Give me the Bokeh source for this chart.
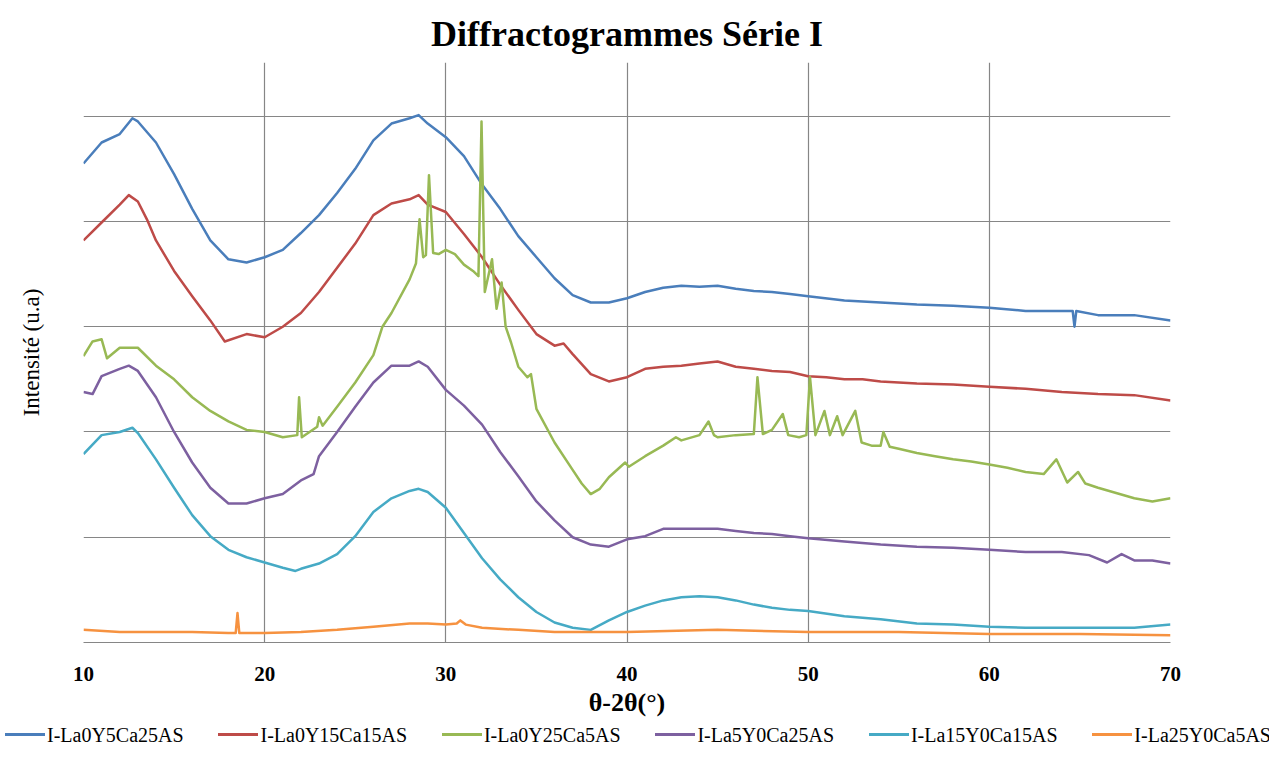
from bokeh.plotting import figure
from bokeh.layouts import column
from bokeh.models import FixedTicker, Range1d, Div
from bokeh.embed import file_html
from bokeh.resources import INLINE

title_text = "Diffractogrammes Série I"
x_label = "θ-2θ(°)"
y_label = "Intensité (u.a)"
x_ticks = [10, 20, 30, 40, 50, 60, 70]
y_grid = [1, 2, 3, 4, 5]

names = ["I-La0Y5Ca25AS", "I-La0Y15Ca15AS", "I-La0Y25Ca5AS",
         "I-La5Y0Ca25AS", "I-La15Y0Ca15AS", "I-La25Y0Ca5AS"]
colors = ["#4A7EBB", "#BE4B48", "#98B954", "#7D60A0", "#46AAC5", "#F69240"]

blue_x = [10, 11, 12, 12.7, 13, 14, 15, 16, 17, 18, 19, 20, 21, 22, 23, 24, 25, 26, 27, 28, 28.5, 29, 30,
          31, 32, 33, 34, 35, 36, 37, 38, 39, 40, 41, 42, 43, 44, 45, 46, 47, 48, 49, 50,
          52, 54, 56, 58, 60, 62, 64, 64.6, 64.7, 64.8, 66, 68, 70]
blue_y = [4.55, 4.75, 4.83, 4.98, 4.95, 4.75, 4.45, 4.12, 3.82, 3.64, 3.61, 3.66, 3.73, 3.89, 4.06, 4.27, 4.50, 4.77, 4.93, 4.98, 5.01, 4.93, 4.80,
          4.62, 4.35, 4.12, 3.86, 3.66, 3.46, 3.30, 3.23, 3.23, 3.27, 3.33, 3.37, 3.39, 3.38, 3.39, 3.36, 3.34, 3.33, 3.31, 3.29,
          3.25, 3.23, 3.21, 3.20, 3.18, 3.15, 3.15, 3.15, 3.00, 3.15, 3.11, 3.11, 3.06]

red_x = [10, 11, 12, 12.5, 13, 13.5, 14, 15, 16, 17, 17.8, 19, 20, 21, 22, 23, 24, 25, 26, 27, 28, 28.5, 29, 30,
         31, 32, 33, 34, 35, 36, 36.5, 37, 38, 39, 40, 41, 42, 43, 44, 45, 46, 47, 48, 49, 50,
         51, 52, 53, 54, 56, 58, 60, 62, 64, 66, 68, 70]
red_y = [3.82, 3.99, 4.16, 4.25, 4.19, 4.02, 3.82, 3.53, 3.29, 3.06, 2.86, 2.93, 2.90, 3.00, 3.13, 3.33, 3.56, 3.79, 4.06, 4.17, 4.21, 4.25, 4.16, 4.09,
         3.88, 3.66, 3.40, 3.16, 2.93, 2.82, 2.84, 2.74, 2.55, 2.48, 2.52, 2.60, 2.62, 2.63, 2.65, 2.67, 2.62, 2.60, 2.58, 2.57, 2.53,
         2.52, 2.50, 2.50, 2.48, 2.46, 2.45, 2.43, 2.41, 2.38, 2.36, 2.35, 2.30]

green_x = [10, 10.5, 11, 11.3, 12, 13, 14, 15, 16, 17, 18, 19, 20, 21, 21.8, 21.9, 22.05, 22.9, 23.0, 23.2, 24, 25, 26, 26.5, 27, 28,
           28.35, 28.55, 28.75, 28.9, 29.07, 29.3, 29.6, 30, 30.5, 31, 31.5, 31.8, 31.97, 32.15, 32.55, 32.8, 33.08, 33.3, 33.6,
           34, 34.5, 34.7, 35, 36, 37, 37.5, 38, 38.5, 39, 39.9, 40.1, 41, 42, 42.7, 43, 44, 44.5, 44.8, 45, 46, 47, 47.2, 47.5,
           48, 48.6, 48.9, 49.5, 49.9, 50.1, 50.4, 50.9, 51.2, 51.6, 51.9, 52.6, 52.95, 53.5, 54, 54.15, 54.5, 55, 56, 57, 58, 59,
           60, 61, 62, 63, 63.7, 64.3, 64.9, 65.3, 66, 67, 68, 69, 70]
green_y = [2.72, 2.86, 2.88, 2.70, 2.80, 2.80, 2.63, 2.50, 2.33, 2.20, 2.10, 2.02, 2.00, 1.95, 1.97, 2.33, 1.95, 2.05, 2.14, 2.06, 2.24, 2.47, 2.73, 3.00, 3.13, 3.45,
           3.60, 4.02, 3.66, 3.68, 4.44, 3.70, 3.69, 3.73, 3.69, 3.59, 3.53, 3.48, 4.95, 3.33, 3.64, 3.17, 3.42, 3.00, 2.85,
           2.62, 2.52, 2.55, 2.22, 1.90, 1.64, 1.51, 1.41, 1.46, 1.57, 1.71, 1.67, 1.77, 1.87, 1.95, 1.92, 1.97, 2.10, 1.97, 1.95, 1.97, 1.98, 2.52, 1.98,
           2.02, 2.17, 1.97, 1.95, 1.97, 2.52, 1.97, 2.20, 1.97, 2.15, 1.97, 2.20, 1.90, 1.87, 1.87, 2.00, 1.86, 1.84, 1.80, 1.77, 1.74, 1.72,
           1.69, 1.66, 1.62, 1.60, 1.74, 1.52, 1.62, 1.51, 1.47, 1.42, 1.37, 1.34, 1.37]

purple_x = [10, 10.5, 11, 12, 12.5, 13, 14, 15, 16, 17, 18, 19, 20, 21, 22, 22.7, 23, 24, 25, 26, 27, 28, 28.5, 29, 30,
            31, 32, 33, 34, 35, 36, 37, 38, 39, 40, 41, 42, 43, 44, 45, 46, 47, 48, 49, 50,
            52, 54, 56, 58, 60, 62, 64, 65.5, 66.5, 67.3, 68, 69, 70]
purple_y = [2.38, 2.36, 2.53, 2.60, 2.63, 2.58, 2.33, 2.00, 1.71, 1.47, 1.32, 1.32, 1.37, 1.41, 1.54, 1.60, 1.77, 2.00, 2.24, 2.47, 2.63, 2.63, 2.67, 2.62, 2.40,
            2.25, 2.07, 1.81, 1.58, 1.34, 1.16, 1.00, 0.93, 0.91, 0.98, 1.01, 1.08, 1.08, 1.08, 1.08, 1.06, 1.04, 1.03, 1.01, 0.99,
            0.96, 0.93, 0.91, 0.90, 0.88, 0.86, 0.86, 0.83, 0.76, 0.84, 0.78, 0.78, 0.75]

cyan_x = [10, 11, 12, 12.7, 13, 14, 15, 16, 17, 18, 19, 20, 21, 21.7, 22, 23, 24, 25, 26, 27, 28, 28.5, 29, 30,
          31, 32, 33, 34, 35, 36, 37, 38, 39, 40, 41, 42, 43, 44, 45, 46, 47, 48, 49, 50,
          52, 54, 56, 58, 60, 62, 64, 66, 68, 70]
cyan_y = [1.79, 1.97, 2.00, 2.04, 1.99, 1.74, 1.47, 1.21, 1.01, 0.88, 0.81, 0.76, 0.71, 0.68, 0.70, 0.75, 0.84, 1.01, 1.24, 1.37, 1.44, 1.46, 1.43, 1.28,
          1.04, 0.80, 0.60, 0.43, 0.29, 0.19, 0.14, 0.12, 0.21, 0.29, 0.35, 0.40, 0.43, 0.44, 0.43, 0.40, 0.36, 0.33, 0.31, 0.30,
          0.25, 0.22, 0.18, 0.17, 0.15, 0.14, 0.14, 0.14, 0.14, 0.17]

orange_x = [10, 12, 14, 16, 18, 18.4, 18.5, 18.6, 20, 22, 24, 26, 28, 29, 30, 30.6, 30.8, 31.1, 32, 34, 36, 40, 45, 50, 55, 60, 65, 70]
orange_y = [0.12, 0.10, 0.10, 0.10, 0.09, 0.09, 0.28, 0.09, 0.09, 0.10, 0.12, 0.15, 0.18, 0.18, 0.17, 0.18, 0.21, 0.17, 0.14, 0.12, 0.10, 0.10, 0.12, 0.10, 0.10, 0.08, 0.08, 0.07]

series = [(blue_x, blue_y), (red_x, red_y), (green_x, green_y),
          (purple_x, purple_y), (cyan_x, cyan_y), (orange_x, orange_y)]

SERIF = "Liberation Serif"
GRID = "#868686"

p = figure(frame_width=1087, frame_height=580, output_backend="svg", toolbar_location=None,
           x_range=Range1d(10, 70), y_range=Range1d(0, 5.51),
           min_border_left=83, min_border_right=99, min_border_top=62, min_border_bottom=0,
           title=title_text)
p.outline_line_color = None
p.background_fill_color = "white"

p.title.text_font = SERIF
p.title.text_font_style = "bold"
p.title.text_font_size = "36px"
p.title.align = "center"
p.title.text_color = "black"
p.title.standoff = 18

p.xaxis.ticker = FixedTicker(ticks=x_ticks)
p.xaxis.major_tick_line_color = None
p.xaxis.minor_tick_line_color = None
p.xaxis.major_tick_out = 0
p.xaxis.minor_tick_out = 0
p.xaxis.axis_line_color = GRID
p.xaxis.major_label_text_font = SERIF
p.xaxis.major_label_text_font_style = "bold"
p.xaxis.major_label_text_font_size = "21px"
p.xaxis.major_label_text_color = "black"
p.xaxis.major_label_standoff = 24
p.xaxis.axis_label = x_label
p.xaxis.axis_label_text_font = SERIF
p.xaxis.axis_label_text_font_style = "bold"
p.xaxis.axis_label_text_font_size = "26px"
p.xaxis.axis_label_text_color = "black"
p.xaxis.axis_label_standoff = 4

p.yaxis.ticker = FixedTicker(ticks=y_grid)
p.yaxis.major_label_overrides = {t: "" for t in y_grid}
p.yaxis.major_tick_line_color = None
p.yaxis.minor_tick_line_color = None
p.yaxis.major_tick_out = 0
p.yaxis.minor_tick_out = 0
p.yaxis.axis_line_color = None
p.yaxis.major_label_standoff = 0
p.yaxis.axis_label = y_label
p.yaxis.axis_label_text_font = SERIF
p.yaxis.axis_label_text_font_style = "normal"
p.yaxis.axis_label_text_font_size = "23px"
p.yaxis.axis_label_text_color = "black"
p.yaxis.axis_label_standoff = 40

p.xgrid.ticker = FixedTicker(ticks=x_ticks)
p.ygrid.ticker = FixedTicker(ticks=y_grid)
p.grid.grid_line_color = GRID
p.grid.grid_line_width = 1.2

for (xs, ys), c in zip(series, colors):
    p.line(xs, ys, line_color=c, line_width=2.5, line_join="round")

# legend row (real text) below the chart
entries = "".join(
    '<span style="display:flex;align-items:center;white-space:nowrap;line-height:20px;">'
    f'<span style="display:inline-block;width:40px;height:0;border-top:3px solid {c};margin-right:2px;"></span>'
    f'{n}</span>'
    for n, c in zip(names, colors)
)
legend_div = Div(
    text=('<div style="display:flex;justify-content:space-between;align-items:center;'
          f'width:1266px;padding-top:0px;font-family:\'{SERIF}\';font-size:20px;color:black;">'
          + entries + '</div>'),
    width=1269, height=22)

layout = column(p, legend_div, spacing=0)
open("out.html", "w").write(file_html(layout, INLINE))
